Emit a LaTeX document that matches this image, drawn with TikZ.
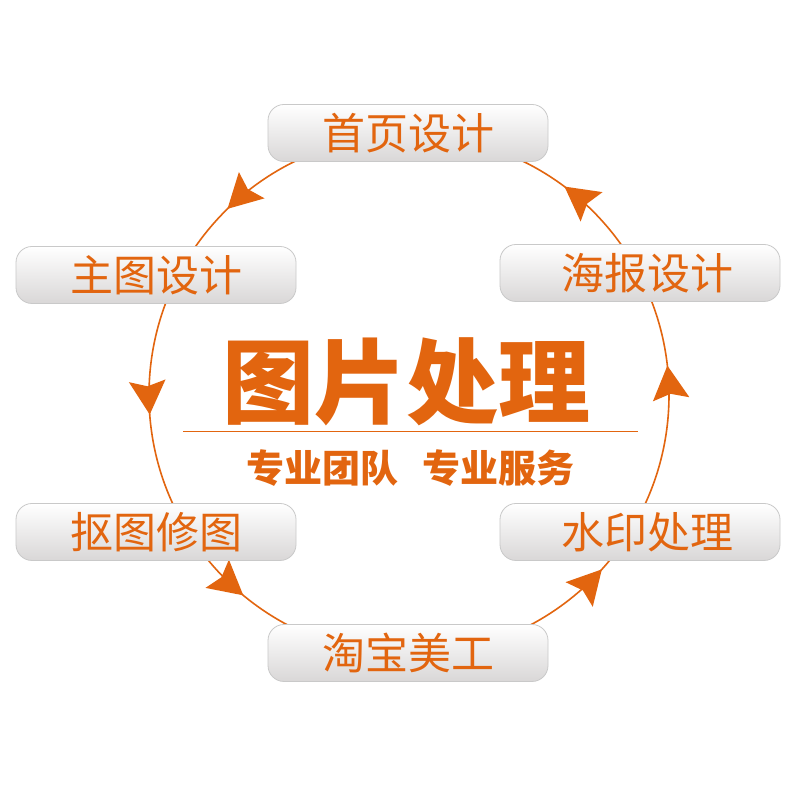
\documentclass[tikz,border=0pt]{standalone}
\usepackage{fontspec}
\usetikzlibrary{arrows.meta,decorations.markings,shapes.misc}
\newfontfamily\cjk{Noto Sans CJK SC}
\newfontfamily\cjkblack{Noto Sans CJK SC Black}
\definecolor{org}{HTML}{E2650F}
\definecolor{boxline}{HTML}{C9C9C9}
\definecolor{boxbot}{HTML}{D9D7D7}
\tikzset{
  pill/.style={rounded corners=16pt, draw=boxline, line width=0.8pt,
    top color=white, bottom color=boxbot, minimum width=280pt,
    minimum height=57pt, inner sep=0pt, text=org,
    font=\cjk\fontsize{43}{43}\selectfont},
  ring/.style={draw=org, line width=1.6pt,
    postaction={decorate},
    decoration={markings,
      mark=at position 0.018 with {\arrow{arr}},
      mark=at position 0.148 with {\arrow{arr}},
      mark=at position 0.373 with {\arrow{arr}},
      mark=at position 0.512 with {\arrow{arr}},
      mark=at position 0.640 with {\arrow{arr}},
      mark=at position 0.883 with {\arrow{arr}}}},
  arr/.tip={Stealth[length=25pt,width=27pt,inset=4pt,color=org,scale=1.35]}
}
\begin{document}
\begin{tikzpicture}[x=1pt,y=1pt]
\useasboundingbox (0,0) rectangle (800,800);
\fill[white] (0,0) rectangle (800,800);
\coordinate (c) at (409,405);
\path[ring] (c) circle[radius=260];
\node[pill] (b1) at (408,667) {首页设计};
\node[pill] (b2) at (640,527) {\hspace*{14pt}海报设计};
\node[pill] (b3) at (156,525) {主图设计};
\node[pill] (b4) at (156,268) {抠图修图};
\node[pill] (b5) at (640,268) {\hspace*{14pt}水印处理};
\node[pill] (b6) at (408,147) {淘宝美工};
\node[text=org, font=\cjkblack\fontsize{92}{92}\selectfont, inner sep=0pt] (t) at (406,418) {图片处理};
\coordinate (l1) at (183,368);
\coordinate (l2) at (638,368);
\draw[org, line width=1pt] (l1) -- (l2);
\node[text=org, font=\cjkblack\fontsize{38}{38}\selectfont, inner sep=0pt] (s1) at (322,332) {专业团队};
\node[text=org, font=\cjkblack\fontsize{38}{38}\selectfont, inner sep=0pt] (s2) at (498,332) {专业服务};
\end{tikzpicture}
\end{document}
